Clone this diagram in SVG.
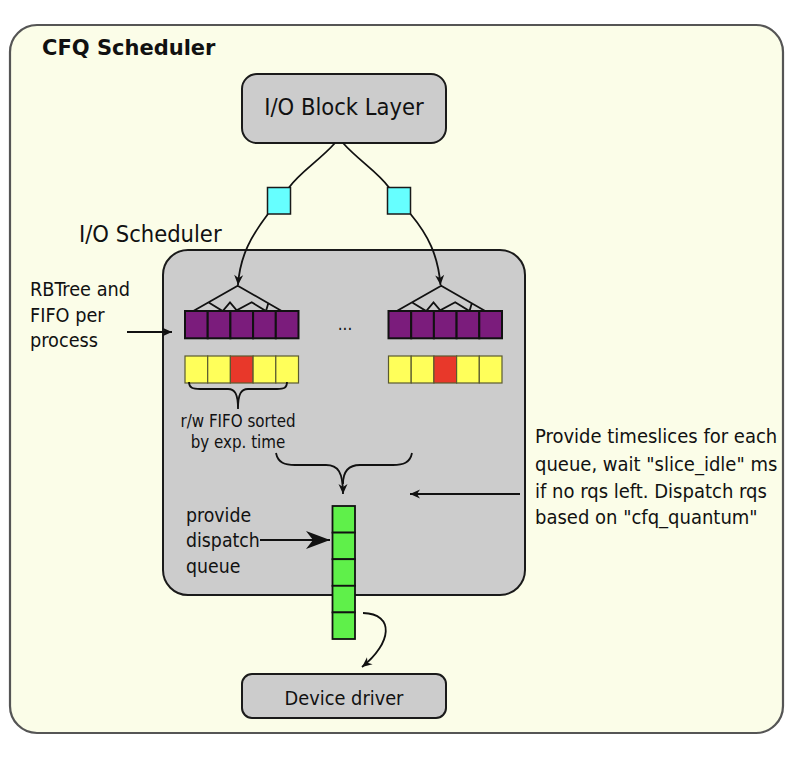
<svg xmlns="http://www.w3.org/2000/svg" width="796" height="766" viewBox="0 0 796 766">
<style>
.t{font-family:"DejaVu Sans Condensed","DejaVu Sans",sans-serif;font-stretch:condensed;fill:#111}
.tb{font-family:"DejaVu Sans",sans-serif;font-weight:bold;fill:#111}
.box{fill:#cccccc;stroke:#1a1a1a;stroke-width:2}
.ln{fill:none;stroke:#111;stroke-width:1.8}
.pu{fill:#7b1c7c;stroke:#111;stroke-width:2}
.ye{fill:#ffff5a;stroke:#5a5a30;stroke-width:1.2}
.re{fill:#e8382a;stroke:#5a5a30;stroke-width:1.2}
.gr{fill:#5ff04a;stroke:#111;stroke-width:1.8}
.cy{fill:#66ffff;stroke:#1a1a1a;stroke-width:1.5}
</style>
<defs>
<marker id="ah" viewBox="-11 -5 12 10" refX="0" refY="0" markerWidth="12" markerHeight="10" markerUnits="userSpaceOnUse" orient="auto"><path d="M0,0 L-10,-4.5 L-7,0 L-10,4.5 Z" fill="#111"/></marker>
<marker id="ahL" viewBox="-25 -10 26 20" refX="0" refY="0" markerWidth="26" markerHeight="20" markerUnits="userSpaceOnUse" orient="auto"><path d="M0,0 L-24,-9 L-17,0 L-24,9 Z" fill="#111"/></marker>
</defs>
<rect width="796" height="766" fill="#ffffff"/>
<rect id="frame" x="10" y="25" width="773" height="708" rx="27" fill="#fbfde8" stroke="#555" stroke-width="2.2"/>
<text class="tb" x="42" y="55" font-size="21">CFQ Scheduler</text>

<g id="block-layer"><rect class="box" x="242" y="74" width="204" height="69" rx="15"/><text class="t" x="344" y="115" font-size="23.5" text-anchor="middle">I/O Block Layer</text></g>

<g id="io-scheduler"><rect class="box" x="163" y="250" width="362" height="345" rx="25"/></g>
<text class="t" x="79" y="242" font-size="23.5">I/O Scheduler</text>

<g id="req-left"><rect class="cy" x="267.5" y="187.5" width="23" height="26.5"/></g>
<g id="req-right"><rect class="cy" x="387.5" y="187.5" width="23" height="26.5"/></g>

<g id="queue-left">
<path class="ln" d="M193.3,311 L237.7,285.7 L281.7,311 M208.3,302.3 L222.7,311 L230,302.3 L236.7,310.3 L251.7,302.3 L266,311 L268.3,303.3"/>
<rect class="pu" x="185" y="311" width="22.7" height="27.3"/><rect class="pu" x="207.7" y="311" width="22.7" height="27.3"/><rect class="pu" x="230.4" y="311" width="22.7" height="27.3"/><rect class="pu" x="253.1" y="311" width="22.7" height="27.3"/><rect class="pu" x="275.8" y="311" width="22.7" height="27.3"/>
<rect class="ye" x="185" y="356" width="22.7" height="27"/><rect class="ye" x="207.7" y="356" width="22.7" height="27"/><rect class="re" x="230.4" y="356" width="22.7" height="27"/><rect class="ye" x="253.1" y="356" width="22.7" height="27"/><rect class="ye" x="275.8" y="356" width="22.7" height="27"/>
</g>
<g id="queue-right" transform="translate(203.5,0)">
<path class="ln" d="M193.3,311 L237.7,285.7 L281.7,311 M208.3,302.3 L222.7,311 L230,302.3 L236.7,310.3 L251.7,302.3 L266,311 L268.3,303.3"/>
<rect class="pu" x="185" y="311" width="22.7" height="27.3"/><rect class="pu" x="207.7" y="311" width="22.7" height="27.3"/><rect class="pu" x="230.4" y="311" width="22.7" height="27.3"/><rect class="pu" x="253.1" y="311" width="22.7" height="27.3"/><rect class="pu" x="275.8" y="311" width="22.7" height="27.3"/>
<rect class="ye" x="185" y="356" width="22.7" height="27"/><rect class="ye" x="207.7" y="356" width="22.7" height="27"/><rect class="re" x="230.4" y="356" width="22.7" height="27"/><rect class="ye" x="253.1" y="356" width="22.7" height="27"/><rect class="ye" x="275.8" y="356" width="22.7" height="27"/>
</g>
<text class="t" x="345" y="330" font-size="17" text-anchor="middle">...</text>

<g id="dispatch-queue">
<rect class="gr" x="332.5" y="506" width="22.5" height="26.6"/><rect class="gr" x="332.5" y="532.6" width="22.5" height="26.6"/><rect class="gr" x="332.5" y="559.2" width="22.5" height="26.6"/><rect class="gr" x="332.5" y="585.8" width="22.5" height="26.6"/><rect class="gr" x="332.5" y="612.4" width="22.5" height="26.6"/>
</g>

<g id="device-driver"><rect class="box" x="242" y="674" width="204" height="44" rx="10"/><text class="t" x="344" y="705" font-size="19.8" text-anchor="middle">Device driver</text></g>

<g id="labels">
<text class="t" x="30" y="296" font-size="19.7">RBTree and</text>
<text class="t" x="30" y="322" font-size="19.7">FIFO per</text>
<text class="t" x="30" y="347" font-size="19.7">process</text>
<text class="t" x="238" y="427" font-size="16.8" text-anchor="middle">r/w FIFO sorted</text>
<text class="t" x="238" y="448" font-size="16.8" text-anchor="middle">by exp. time</text>
<text class="t" x="186" y="522" font-size="19.3">provide</text>
<text class="t" x="186" y="547" font-size="19.3">dispatch</text>
<text class="t" x="186" y="573" font-size="19.3">queue</text>
<text class="t" x="535" y="443" font-size="20">Provide timeslices for each</text>
<text class="t" x="535" y="471" font-size="20">queue, wait "slice_idle" ms</text>
<text class="t" x="535" y="498" font-size="20">if no rqs left. Dispatch rqs</text>
<text class="t" x="535" y="524" font-size="20">based on "cfq_quantum"</text>
</g>

<g id="connectors">
<path class="ln" d="M335,143 C320,160 300,172 289,187.5"/>
<path class="ln" d="M343,143 C358,160 378,172 389,187.5"/>
<path class="ln" d="M268,214 C252,235 240,255 238,285" marker-end="url(#ah)"/>
<path class="ln" d="M410.5,214 C428,235 438,255 440.5,285" marker-end="url(#ah)"/>
<path class="ln" d="M127,332 L172,332" marker-end="url(#ah)"/>
<path class="ln" stroke-width="1.5" d="M189,382 C189,388 193,389 200,389 L228,389 C235,389 238,394 238,409 C238,394 241,389 248,389 L277,389 C284,389 287,388 287,382"/>
<path class="ln" d="M276,453 C278,463 285,465 295,465 L326,465 C338,465 343,472 343,494" marker-end="url(#ah)"/>
<path class="ln" d="M412,453 C410,463 403,465 393,465 L360,465 C348,465 343,472 343,484"/>
<path class="ln" d="M520,494 L410,494" marker-end="url(#ah)"/>
<path class="ln" d="M260,540 L330,540" marker-end="url(#ahL)"/>
<path class="ln" d="M363,613 C395,614 392,643 362,667" marker-end="url(#ah)"/>
</g>
</svg>
